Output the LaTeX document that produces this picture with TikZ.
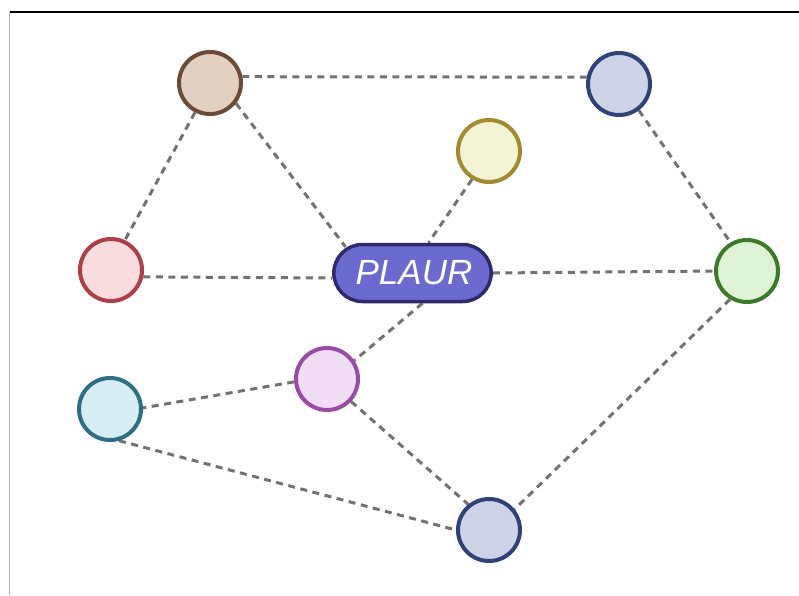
\documentclass[tikz,border=0pt]{standalone}
\usepackage{xcolor}
\usepackage{fontspec}
\usepackage{tikz}
\usetikzlibrary{shapes.misc,positioning,backgrounds}
\newfontfamily\hubfont{Liberation Sans}

\definecolor{brownfill}{HTML}{E2D1C2}
\definecolor{browndraw}{HTML}{6B4B36}
\definecolor{bluefill}{HTML}{CDD4E7}
\definecolor{bluedraw}{HTML}{2F4378}
\definecolor{yellowfill}{HTML}{F5F3D6}
\definecolor{yellowdraw}{HTML}{A28A30}
\definecolor{redfill}{HTML}{F9DCDD}
\definecolor{reddraw}{HTML}{AE3F48}
\definecolor{greenfill}{HTML}{DFF3D9}
\definecolor{greendraw}{HTML}{3B7A29}
\definecolor{purplefill}{HTML}{F2DDF6}
\definecolor{purpledraw}{HTML}{984BA7}
\definecolor{tealfill}{HTML}{D8EEF4}
\definecolor{tealdraw}{HTML}{2E6F86}
\definecolor{hubfill}{HTML}{6A6ACF}
\definecolor{hubdraw}{HTML}{2D2B6C}
\definecolor{linkgray}{HTML}{727272}

\tikzset{
  gene/.style={circle, line width=4pt, minimum size=62pt, inner sep=0pt},
  hub/.style={rounded rectangle, line width=3.5pt, draw=hubdraw, fill=hubfill,
    minimum width=164pt, minimum height=57pt, text=white,
    font=\hubfont\itshape\fontsize{35}{35}\selectfont},
  link/.style={draw=linkgray, line width=3pt, dash pattern=on 7pt off 5.5pt}
}

\begin{document}
\begin{tikzpicture}[x=1pt, y=-1pt]
        \useasboundingbox (0,0) rectangle (799,595);
        \draw[black, line width=1.5pt] (9.5,12) -- (799,12);
        \draw[gray!60, line width=1pt] (9.5,12) -- (9.5,595);

        \node[hub] (P) at (412.5,273) {\hspace{3pt}PLAUR};

        \node[gene, draw=browndraw, fill=brownfill] (A) at (210,83) {};
        \node[gene, draw=bluedraw, fill=bluefill] (B) at (619,84) {};
        \node[gene, draw=yellowdraw, fill=yellowfill] (C) at (489,151) {};
        \node[gene, draw=reddraw, fill=redfill] (D) at (111,270) {};
        \node[gene, draw=greendraw, fill=greenfill] (E) at (747,271) {};
        \node[gene, draw=purpledraw, fill=purplefill] (F) at (327,379) {};
        \node[gene, draw=tealdraw, fill=tealfill] (G) at (110,409) {};
        \node[gene, draw=bluedraw, fill=bluefill] (H) at (489,530) {};

        \begin{scope}[on background layer]
        \path[link]
          (A.11) edge (B.168)
          (A.-117) edge (D.65)
          (A.-38) edge ([xshift=-67pt,yshift=-4pt]P.north)
          (C.-121) edge ([xshift=16pt]P.north)
          (D.-12) edge ([yshift=-5pt]P.west)
          (P.east) edge (E.180)
          (B.-53) edge (E.120)
          ([xshift=10pt]P.south) edge (F.34)
          (F.185) edge (G.2)
          (F.-43) edge (H.129)
          (G.-74) edge (H.180)
          (E.-121) edge (H.39);
        \end{scope}
  \end{tikzpicture}
\end{document}
